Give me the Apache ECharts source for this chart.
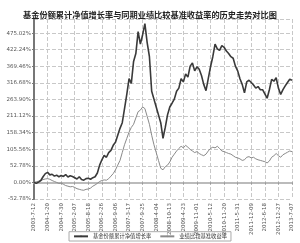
<!DOCTYPE html>
<html><head><meta charset="utf-8">
<script src="https://cdn.jsdelivr.net/npm/echarts@6/dist/echarts.min.js"></script>
<style>html,body{margin:0;padding:0;background:#fff}#c{width:300px;height:243px}</style>
</head><body><div id="c"></div>
<script>
var titleText = '基金份额累计净值增长率与同期业绩比较基准收益率的历史走势对比图';
var seriesNames = ['基金份额累计净值增长率', '业绩比较基准收益率'];
var tickLabels = ['2003-7-12','2004-1-20','2004-7-30','2005-2-07','2005-8-18','2006-2-26','2006-9-06','2007-3-17','2007-9-25','2008-4-04','2008-10-13','2009-4-23','2009-11-01','2010-5-12','2010-11-20','2011-5-31','2011-12-09','2012-6-18','2012-12-27','2013-7-07'];
var yTicks = {min: -52.78, step: 52.78, max: 520};
var fundValues = [
  0, -3, 1, 6, 18, 28,
  32, 24, 26, 20, 23, 18,
  22, 19, 25, 17, 21, 19,
  15, 11, 18, 9, 7, 12,
  13, 10, 15, 18, 30, 55,
  72, 86, 80, 95, 102, 118,
  128, 150, 172, 190, 235, 280,
  330, 315, 385, 410, 480, 440,
  470, 505, 445, 400, 290, 265,
  240, 215, 190, 140, 175, 215,
  240, 252, 265, 290, 300, 330,
  320, 345, 335, 370, 380, 355,
  368, 360, 340, 312, 292, 330,
  368, 400, 440, 425, 420, 435,
  430, 418, 410, 400, 395, 370,
  355, 330, 312, 285, 320, 325,
  318, 310, 300, 305, 295, 295,
  282, 268, 295, 328, 322, 333,
  300, 280, 295, 307, 318, 328, 325
];
var benchValues = [
  0, 2, 4, 6, 9, 11,
  12, 10, 6, 3, 0, -3,
  -2, -6, -10, -12, -14, -13,
  -16, -20, -22, -24, -25, -22,
  -21, -18, -12, -8, -3, 3,
  6, 8, 7, 12, 20, 28,
  40, 55, 70, 95, 120, 140,
  160, 175, 185, 205, 225, 230,
  240, 235, 210, 185, 150, 120,
  95, 70, 45, 40, 50, 55,
  65, 80, 90, 100, 108, 115,
  110, 118, 112, 105, 100, 95,
  98, 92, 88, 85, 90, 100,
  108, 112, 110, 115, 108, 100,
  98, 95, 92, 90, 85, 80,
  78, 75, 70, 72, 80, 82,
  78, 80, 75, 72, 70, 68,
  66, 62, 68, 80, 85, 92,
  85, 80, 88, 92, 96, 100, 98
];
var pointsPerTick = 6;

function pairs(arr){ return arr.map(function(v,i){ return [i, v]; }); }

var chart = echarts.init(document.getElementById('c'), null, {renderer:'canvas'});
chart.setOption({
  animation: false,
  backgroundColor: '#fff',
  title: {
    text: titleText, left: 'center', top: 6,
    textStyle: {fontSize: 8.2, fontWeight: 'bold', color: '#222', fontFamily: 'Noto Sans CJK SC'}
  },
  legend: {
    bottom: 2, left: 'center',
    itemWidth: 14, itemHeight: 2, itemGap: 8,
    padding: [2, 4], borderColor: '#aaa', borderWidth: 1,
    textStyle: {fontSize: 5.3, color: '#333', fontFamily: 'Noto Sans CJK SC'},
    data: seriesNames
  },
  grid: {left: 34, right: 8, top: 19, bottom: 44, containLabel: false},
  xAxis: {
    type: 'value', min: 0, max: (tickLabels.length - 1) * pointsPerTick, interval: pointsPerTick,
    axisLine: {lineStyle: {color: '#bbb', width: 2}},
    axisTick: {show: true, length: 2, lineStyle: {color: '#999'}},
    axisLabel: {
      rotate: 90, fontSize: 5.5, color: '#555', margin: 4,
      fontFamily: 'DejaVu Sans',
      formatter: function(v){ var i = Math.round(v / pointsPerTick); return tickLabels[i] || ''; }
    },
    splitLine: {show: true, lineStyle: {color: '#c8c8c8', type: 'dashed', width: 1}}
  },
  yAxis: {
    type: 'value', min: yTicks.min, max: yTicks.max, interval: yTicks.step,
    axisLine: {show: true, lineStyle: {color: '#777', width: 2}},
    axisTick: {show: true, length: 2, lineStyle: {color: '#777'}},
    axisLabel: {
      fontSize: 5.5, color: '#555', margin: 3, showMaxLabel: false,
      fontFamily: 'DejaVu Sans',
      formatter: function(v){ return (Math.abs(v) < 1e-6 ? 0 : v).toFixed(2) + '%'; }
    },
    splitLine: {show: true, lineStyle: {color: '#c8c8c8', type: 'dashed', width: 1}}
  },
  series: [
    {name: seriesNames[0], type: 'line', data: pairs(fundValues), symbol: 'none',
     lineStyle: {color: '#3a3a3a', width: 1.6}, itemStyle: {color: '#3a3a3a'}, z: 3},
    {name: seriesNames[1], type: 'line', data: pairs(benchValues), symbol: 'none',
     lineStyle: {color: '#8a8a8a', width: 1}, itemStyle: {color: '#8a8a8a'}, z: 2}
  ]
});
</script></body></html>
